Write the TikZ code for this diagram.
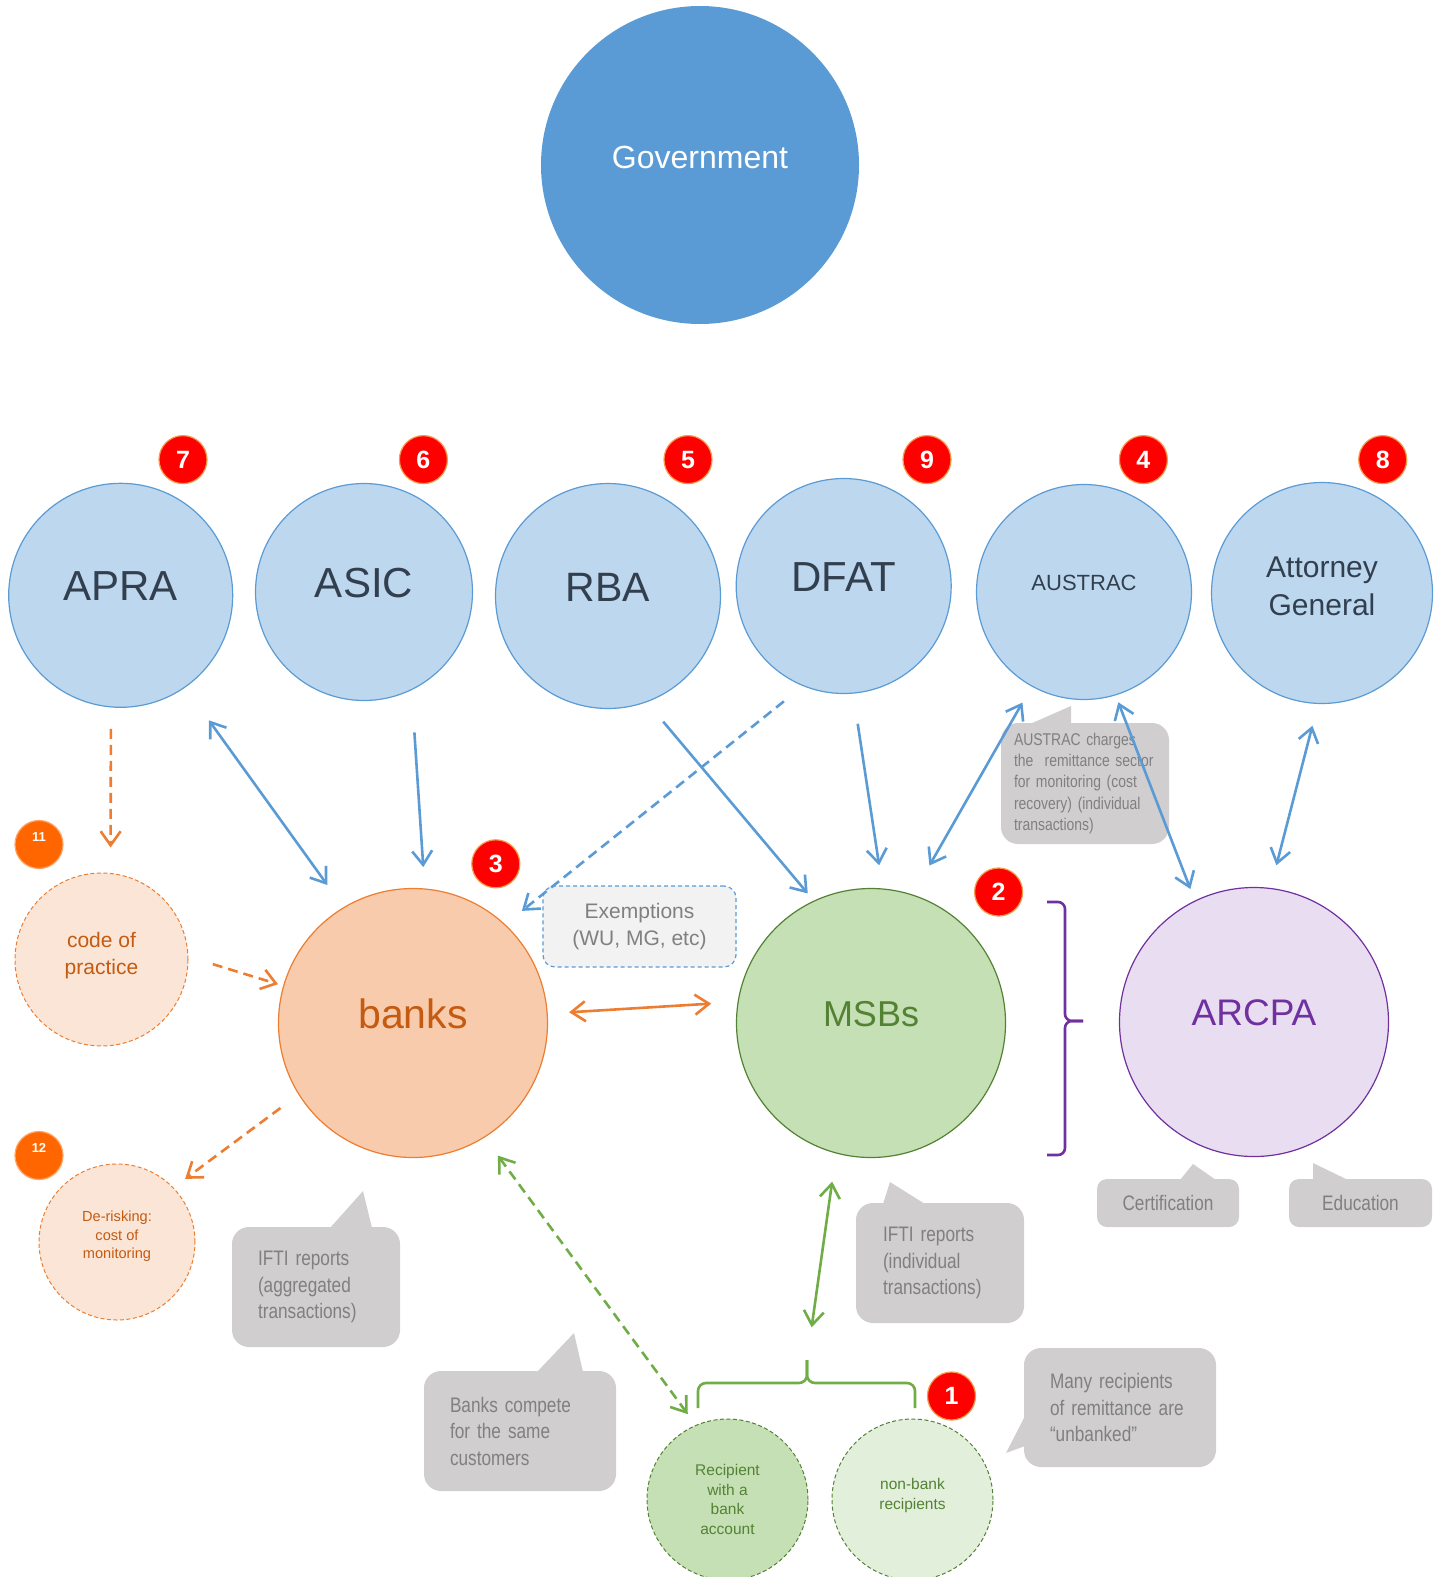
\documentclass[tikz,border=0pt]{standalone}
\usepackage{fontspec}
\setmainfont{Liberation Sans}
\newfontfamily\narrowfont[FakeStretch=0.82]{Liberation Sans}
\usepackage{xcolor}
\usepackage{tikz}
\usetikzlibrary{arrows.meta,calc}
\definecolor{govblue}{HTML}{5B9BD5}
\definecolor{agencyfill}{HTML}{BDD7EE}
\definecolor{agencytext}{HTML}{323F4F}
\definecolor{badgered}{HTML}{FF0000}
\definecolor{badgerim}{HTML}{F59A4A}
\definecolor{badgeorange}{HTML}{FF6600}
\definecolor{bankfill}{HTML}{F8CBAD}
\definecolor{bankdraw}{HTML}{ED7D31}
\definecolor{banktext}{HTML}{C55A11}
\definecolor{codefill}{HTML}{FBE5D6}
\definecolor{msbfill}{HTML}{C5E0B4}
\definecolor{msbdraw}{HTML}{548235}
\definecolor{nonbankfill}{HTML}{E2EFDA}
\definecolor{arcpafill}{HTML}{E9DEF1}
\definecolor{arcpadraw}{HTML}{7030A0}
\definecolor{calloutgray}{HTML}{D0CECE}
\definecolor{callouttext}{HTML}{808080}
\definecolor{exfill}{HTML}{F2F2F2}
\definecolor{greenline}{HTML}{70AD47}
\tikzstyle{agency} = [circle, draw=govblue, fill=agencyfill, line width=1.2pt, inner sep=0pt, outer sep=0pt, text=agencytext, text depth=18pt]
\tikzstyle{hub} = [circle, line width=1.2pt, minimum size=269pt, inner sep=0pt, outer sep=0pt, text depth=18pt]
\tikzstyle{bubble} = [circle, dash pattern=on 4pt off 2.5pt, line width=1pt, inner sep=0pt, outer sep=0pt, align=center]
\tikzstyle{badge} = [circle, fill=badgered, draw=badgerim, line width=1.2pt, minimum size=48pt, inner sep=0pt, outer sep=0pt, text=white, font=\bfseries\fontsize{25}{25}\selectfont]
\tikzstyle{smallbadge} = [badge, fill=badgeorange, draw=badgeorange!60, text depth=15pt, font=\bfseries\fontsize{13}{13}\selectfont]
\tikzstyle{callbox} = [rectangle, rounded corners=17pt, fill=calloutgray, text=callouttext, inner ysep=0pt, align=left, font=\narrowfont\fontsize{21}{26.5}\selectfont]
\tikzstyle{link} = [line width=2.6pt, >={Straight Barb[length=14pt,width=20pt]}]
\tikzstyle{dashlink} = [dash pattern=on 10pt off 6pt]
\tikzstyle{brace} = [line width=2.6pt, rounded corners=7pt]

\begin{document}
\begin{tikzpicture}[x=1pt,y=-1pt]
		%\draw[help lines,step=50] (0,0) grid (1441,1577); %Hilfsgitter fuer Koordinaten
		\useasboundingbox (0,0) rectangle (1441,1577);
		\node[circle, fill=govblue, minimum size=318pt, inner sep=0pt, text=white, font=\fontsize{32}{32}\selectfont, text depth=16pt] (gov) at (700,165) {Government}; % top circle
		
		\node[agency, minimum size=224pt, font=\fontsize{42}{42}\selectfont] (apra)     at (120.7,595.3) {APRA};
		\node[agency, minimum size=217pt, font=\fontsize{42}{42}\selectfont] (asic)     at (364,592)     {ASIC};
		\node[agency, minimum size=225pt, font=\fontsize{41}{41}\selectfont] (rba)      at (608,596)     {RBA};
		\node[agency, minimum size=215pt, font=\fontsize{42}{42}\selectfont] (dfat)     at (843.7,586)   {DFAT};
		\node[agency, minimum size=215pt, font=\fontsize{22}{22}\selectfont] (austrac)  at (1084,592)    {AUSTRAC};
		\node[agency, minimum size=221pt, align=center, text depth=14pt, font=\fontsize{30}{38}\selectfont] (attorney) at (1322,593) {Attorney\\General};
		
		\node[badge] (b7) at (183,459.6)   {7};
		\node[badge] (b6) at (423.4,459.6) {6};
		\node[badge] (b5) at (688,459.6)   {5};
		\node[badge] (b9) at (927,459.6)   {9};
		\node[badge] (b4) at (1143.4,459.6){4};
		\node[badge] (b8) at (1382.7,459.6){8};
		
		\node[hub, draw=bankdraw, fill=bankfill, text=banktext, font=\fontsize{41}{41}\selectfont] (banks) at (413,1023) {banks};   % banks
		\node[hub, draw=msbdraw, fill=msbfill, text=msbdraw, font=\fontsize{36}{36}\selectfont] (msbs) at (871,1023) {MSBs};        % MSBs
		\node[hub, draw=arcpadraw, fill=arcpafill, text=arcpadraw, font=\fontsize{37}{37}\selectfont] (arcpa) at (1254,1022) {ARCPA};% ARCPA
		\node[badge] (b3) at (495.8,863.8) {3};
		\node[badge] (b2) at (998.6,892)   {2};
		
		\node[bubble, draw=bankdraw, fill=codefill, minimum size=173pt, text=banktext, text depth=12pt, font=\fontsize{21}{27.5}\selectfont] (code) at (101.5,959.5) {code of\\practice};
		\node[bubble, draw=bankdraw, fill=codefill, minimum size=156pt, text=banktext, text depth=14pt, font=\fontsize{14.6}{18.5}\selectfont] (derisk) at (117,1242) {De-risking:\\cost of\\monitoring};
		\node[smallbadge] (b11) at (39,844.5)  {11};
		\node[smallbadge] (b12) at (39,1155.5) {12};
		
		\node[bubble, draw=msbdraw, fill=msbfill, minimum size=161pt, text=msbdraw, font=\fontsize{15.5}{19.8}\selectfont] (recip) at (727.5,1499.5) {Recipient\\with a\\bank\\account};
		\node[bubble, draw=msbdraw, fill=nonbankfill, minimum size=161pt, text=msbdraw, text depth=12pt, font=\fontsize{15.5}{19.8}\selectfont] (nonbank) at (912.5,1499.5) {non-bank\\recipients};
		\node[badge] (b1) at (951.5,1396) {1};
		
		% callouts
		\node[rectangle, rounded corners=12pt, fill=exfill, draw=govblue, dash pattern=on 4pt off 3pt, line width=1.2pt, minimum width=193pt, minimum height=81pt, align=center, text=callouttext, font=\fontsize{21}{27}\selectfont] (exempt) at (639.5,926.5) {Exemptions\\(WU, MG, etc)};
		\node[callbox, text width=142pt, inner xsep=13pt, minimum height=121pt, font=\narrowfont\fontsize{17}{21.3}\selectfont] (charges) at (1085,783.5) {AUSTRAC charges\\the\ \ remittance sector\\for monitoring (cost\\recovery) (individual\\transactions)};
		\fill[calloutgray] (1030,724) -- (1071,706) -- (1071,724) -- cycle;
		\node[callbox, text width=116pt, inner xsep=26pt, minimum height=120pt] (iftiagg) at (316,1287) {IFTI reports\\(aggregated\\transactions)};
		\fill[calloutgray] (330,1228) -- (363,1191) -- (372,1228) -- cycle;
		\node[callbox, text width=140pt, inner xsep=26pt, minimum height=120pt] (compete) at (520,1431) {Banks compete\\for the same\\customers};
		\fill[calloutgray] (537,1372) -- (574,1333) -- (583,1372) -- cycle;
		\node[callbox, text width=114pt, inner xsep=27pt, minimum height=120pt] (iftiind) at (940,1263) {IFTI reports\\(individual\\transactions)};
		\fill[calloutgray] (883,1204) -- (890,1182) -- (925,1204) -- cycle;
		\node[callbox, text width=140pt, inner xsep=26pt, minimum height=119pt] (unbanked) at (1120,1407.5) {Many recipients\\of remittance are\\“unbanked”};
		\fill[calloutgray] (1025,1416) -- (1006,1453) -- (1025,1446) -- cycle;
		\node[callbox, rounded corners=10pt, minimum width=142pt, minimum height=48pt, align=center] (cert) at (1168,1203) {Certification};
		\fill[calloutgray] (1180,1180) -- (1193,1164) -- (1216,1180) -- cycle;
		\node[callbox, rounded corners=10pt, minimum width=143pt, minimum height=48pt, align=center] (edu) at (1360.5,1203) {Education};
		\fill[calloutgray] (1313,1180) -- (1313,1163) -- (1348,1180) -- cycle;
		
		% brackets
		\draw[brace, arcpadraw] (1047,902)  -| (1065,1021) -- (1083,1021); % upper half
		\draw[brace, arcpadraw] (1047,1155) -| (1065,1021) -- (1083,1021); % lower half
		\coordinate (split) at (807,1360);
		\draw[brace, greenline, rounded corners=8pt] (698,1408) |- (807,1383) -- (split); % left half
		\draw[brace, greenline, rounded corners=8pt] (915,1408) |- (807,1383) -- (split); % right half
		
		% blue links
		\draw[link, govblue, <->, shorten <=41pt, shorten >=28pt] (apra.-55)     -- (banks.121);
		\draw[link, govblue, ->,  shorten <=43pt, shorten >=22pt] (asic.-64)     -- (banks.85);
		\draw[link, govblue, ->,  shorten <=26pt, shorten >=10pt] (rba.-70)      -- (msbs.115);
		\draw[link, govblue, ->,  shorten <=31pt, shorten >=24pt] (dfat.-85)     -- (msbs.85);
		\draw[link, govblue, <->, shorten <=34pt, shorten >=19pt] (msbs.72)      -- (austrac.-119);
		\draw[link, govblue, <->, shorten <=8pt,  shorten >=13pt] (austrac.-73)  -- (arcpa.116);
		\draw[link, govblue, <->, shorten <=23pt, shorten >=24pt] (attorney.-92) -- (arcpa.83);
		\draw[link, govblue, dashlink, ->, shorten <=25pt, shorten >=22pt] (dfat.-112) -- (banks.47); % exemptions
		% orange links
		\draw[link, bankdraw, dashlink, ->, shorten <=22pt, shorten >=26pt] (apra.-95)   -- (code.84);
		\draw[link, bankdraw, dashlink, ->, shorten <=26pt, shorten >=6pt]  (code.2)     -- (banks.164);
		\draw[link, bankdraw, dashlink, ->, shorten <=23pt, shorten >=15pt] (banks.-148) -- (derisk.44);
		\draw[link, bankdraw, <->, shorten <=22pt, shorten >=27pt] (banks.4) -- (msbs.171);
		% green links
		\draw[link, greenline, <->, shorten <=29pt, shorten >=33pt] (msbs.-105) -- (split);
		\draw[link, greenline, dashlink, <->, shorten <=23pt, shorten >=14pt] (banks.-58) -- (recip.113);
\end{tikzpicture}
\end{document}
